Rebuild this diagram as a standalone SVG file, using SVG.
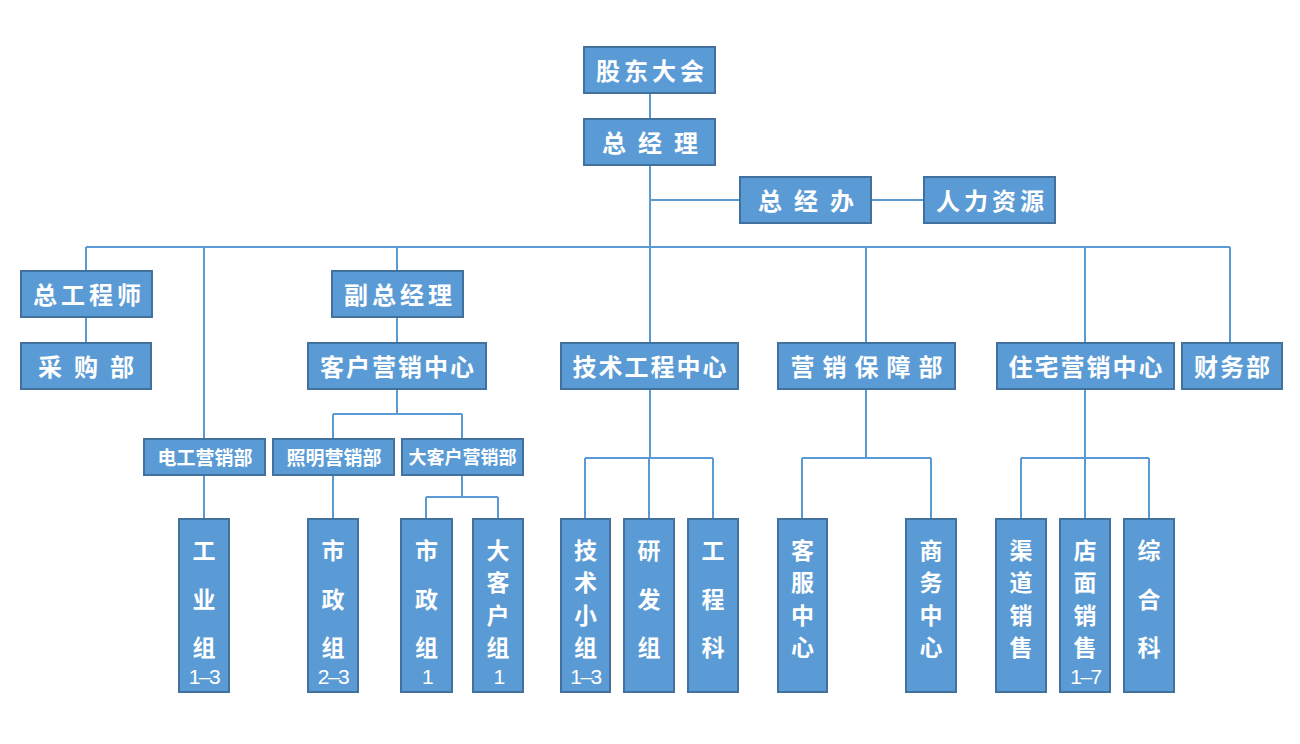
<svg xmlns="http://www.w3.org/2000/svg" width="1300" height="744" viewBox="0 0 1300 744">
<style>
.n{fill:#5B9BD5;stroke:#41719C;stroke-width:2}
.c{fill:none;stroke:#5B9BD5;stroke-width:2}
text{fill:#fff;font-family:"Noto Sans CJK SC","Noto Sans",sans-serif;font-weight:bold;text-anchor:middle;dominant-baseline:central}
.t24{font-size:24px}
.t19{font-size:19px}
.t18{font-size:18px}
.v{font-size:23px}
.num{font-family:"Liberation Sans",Arial,sans-serif;font-weight:normal;font-size:21px;letter-spacing:-1.5px;dominant-baseline:auto}
</style>
<rect width="1300" height="744" fill="#fff"/>
<g id="connectors">
<path class="c" d="M650 93V119M650 165V247M650 200H740M871 200H924M86 247H1230M86 247V271M86 317V343M204 247V439M397 247V271M397 317V343M650 247V343M866 247V343M1085 247V343M1230 247V343"/>
<path class="c" d="M397 389V414M333 414H462M333 414V439M462 414V439M204 475V519M333 475V519M462 475V497M426 497H498M426 497V519M498 497V519"/>
<path class="c" d="M650 389V458M585 458H713M585 458V519M649 458V519M713 458V519M866 389V458M802 458H931M802 458V519M931 458V519M1085 389V458M1021 458H1149M1021 458V519M1085 458V519M1149 458V519"/>
</g>
<g id="gudong"><rect class="n" x="584" y="47" width="131" height="46"/><text class="t24" x="652" y="69" letter-spacing="4">股东大会</text></g>
<g id="zongjingli"><rect class="n" x="584" y="119" width="131" height="46"/><text class="t24" x="656" y="141" letter-spacing="12">总经理</text></g>
<g id="zongjingban"><rect class="n" x="740" y="177" width="131" height="46"/><text class="t24" x="812" y="199" letter-spacing="12">总经办</text></g>
<g id="renli"><rect class="n" x="924" y="177" width="131" height="46"/><text class="t24" x="992" y="199" letter-spacing="4">人力资源</text></g>
<g id="zonggong"><rect class="n" x="21" y="271" width="131" height="46"/><text class="t24" x="89" y="293" letter-spacing="4">总工程师</text></g>
<g id="caigou"><rect class="n" x="21" y="343" width="130" height="46"/><text class="t24" x="92" y="365" letter-spacing="12">采购部</text></g>
<g id="fuzong"><rect class="n" x="332" y="271" width="131" height="46"/><text class="t24" x="400" y="293" letter-spacing="4">副总经理</text></g>
<g id="kehu"><rect class="n" x="308" y="343" width="178" height="46"/><text class="t24" x="398" y="365" letter-spacing="2">客户营销中心</text></g>
<g id="jishu"><rect class="n" x="561" y="343" width="177" height="46"/><text class="t24" x="650.5" y="365" letter-spacing="2">技术工程中心</text></g>
<g id="baozhang"><rect class="n" x="778" y="343" width="177" height="46"/><text class="t24" x="870.5" y="365" letter-spacing="8">营销保障部</text></g>
<g id="zhuzhai"><rect class="n" x="997" y="343" width="177" height="46"/><text class="t24" x="1086.5" y="365" letter-spacing="2">住宅营销中心</text></g>
<g id="caiwu"><rect class="n" x="1182" y="343" width="100" height="46"/><text class="t24" x="1233" y="365" letter-spacing="2">财务部</text></g>
<g id="diangong"><rect class="n" x="144" y="439" width="121" height="36"/><text class="t19" x="205" y="456">电工营销部</text></g>
<g id="zhaoming"><rect class="n" x="273" y="439" width="121" height="36"/><text class="t19" x="334" y="456">照明营销部</text></g>
<g id="dakehu"><rect class="n" x="402" y="439" width="121" height="36"/><text class="t18" x="462.5" y="456">大客户营销部</text></g>
<g id="gongye"><rect class="n" x="179" y="519" width="50" height="173"/><text class="v" x="204"><tspan y="549">工</tspan><tspan x="204" y="598">业</tspan><tspan x="204" y="646">组</tspan></text><text class="num" x="204" y="684">1–3</text></g>
<g id="shizheng23"><rect class="n" x="308" y="519" width="50" height="173"/><text class="v" x="333"><tspan y="549">市</tspan><tspan x="333" y="598">政</tspan><tspan x="333" y="646">组</tspan></text><text class="num" x="333" y="684">2–3</text></g>
<g id="shizheng1"><rect class="n" x="401" y="519" width="51" height="173"/><text class="v" x="426.5"><tspan y="549">市</tspan><tspan x="426.5" y="598">政</tspan><tspan x="426.5" y="646">组</tspan></text><text class="num" x="427" y="684">1</text></g>
<g id="dakehuzu"><rect class="n" x="473" y="519" width="50" height="173"/><text class="v" x="498"><tspan y="549">大</tspan><tspan x="498" y="581">客</tspan><tspan x="498" y="614">户</tspan><tspan x="498" y="646">组</tspan></text><text class="num" x="498.5" y="684">1</text></g>
<g id="jishuxiaozu"><rect class="n" x="561" y="519" width="49" height="173"/><text class="v" x="585.5"><tspan y="549">技</tspan><tspan x="585.5" y="581">术</tspan><tspan x="585.5" y="614">小</tspan><tspan x="585.5" y="646">组</tspan></text><text class="num" x="585.5" y="684">1–3</text></g>
<g id="yanfa"><rect class="n" x="624" y="519" width="50" height="173"/><text class="v" x="649"><tspan y="549">研</tspan><tspan x="649" y="598">发</tspan><tspan x="649" y="646">组</tspan></text></g>
<g id="gongchengke"><rect class="n" x="688" y="519" width="50" height="173"/><text class="v" x="713"><tspan y="549">工</tspan><tspan x="713" y="598">程</tspan><tspan x="713" y="646">科</tspan></text></g>
<g id="kefu"><rect class="n" x="778" y="519" width="49" height="173"/><text class="v" x="802.5"><tspan y="549">客</tspan><tspan x="802.5" y="581">服</tspan><tspan x="802.5" y="614">中</tspan><tspan x="802.5" y="646">心</tspan></text></g>
<g id="shangwu"><rect class="n" x="906" y="519" width="50" height="173"/><text class="v" x="931"><tspan y="549">商</tspan><tspan x="931" y="581">务</tspan><tspan x="931" y="614">中</tspan><tspan x="931" y="646">心</tspan></text></g>
<g id="qudao"><rect class="n" x="996" y="519" width="50" height="173"/><text class="v" x="1021"><tspan y="549">渠</tspan><tspan x="1021" y="581">道</tspan><tspan x="1021" y="614">销</tspan><tspan x="1021" y="646">售</tspan></text></g>
<g id="dianmian"><rect class="n" x="1060" y="519" width="50" height="173"/><text class="v" x="1085"><tspan y="549">店</tspan><tspan x="1085" y="581">面</tspan><tspan x="1085" y="614">销</tspan><tspan x="1085" y="646">售</tspan></text><text class="num" x="1085.5" y="684">1–7</text></g>
<g id="zonghe"><rect class="n" x="1124" y="519" width="50" height="173"/><text class="v" x="1149"><tspan y="549">综</tspan><tspan x="1149" y="598">合</tspan><tspan x="1149" y="646">科</tspan></text></g>
</svg>
